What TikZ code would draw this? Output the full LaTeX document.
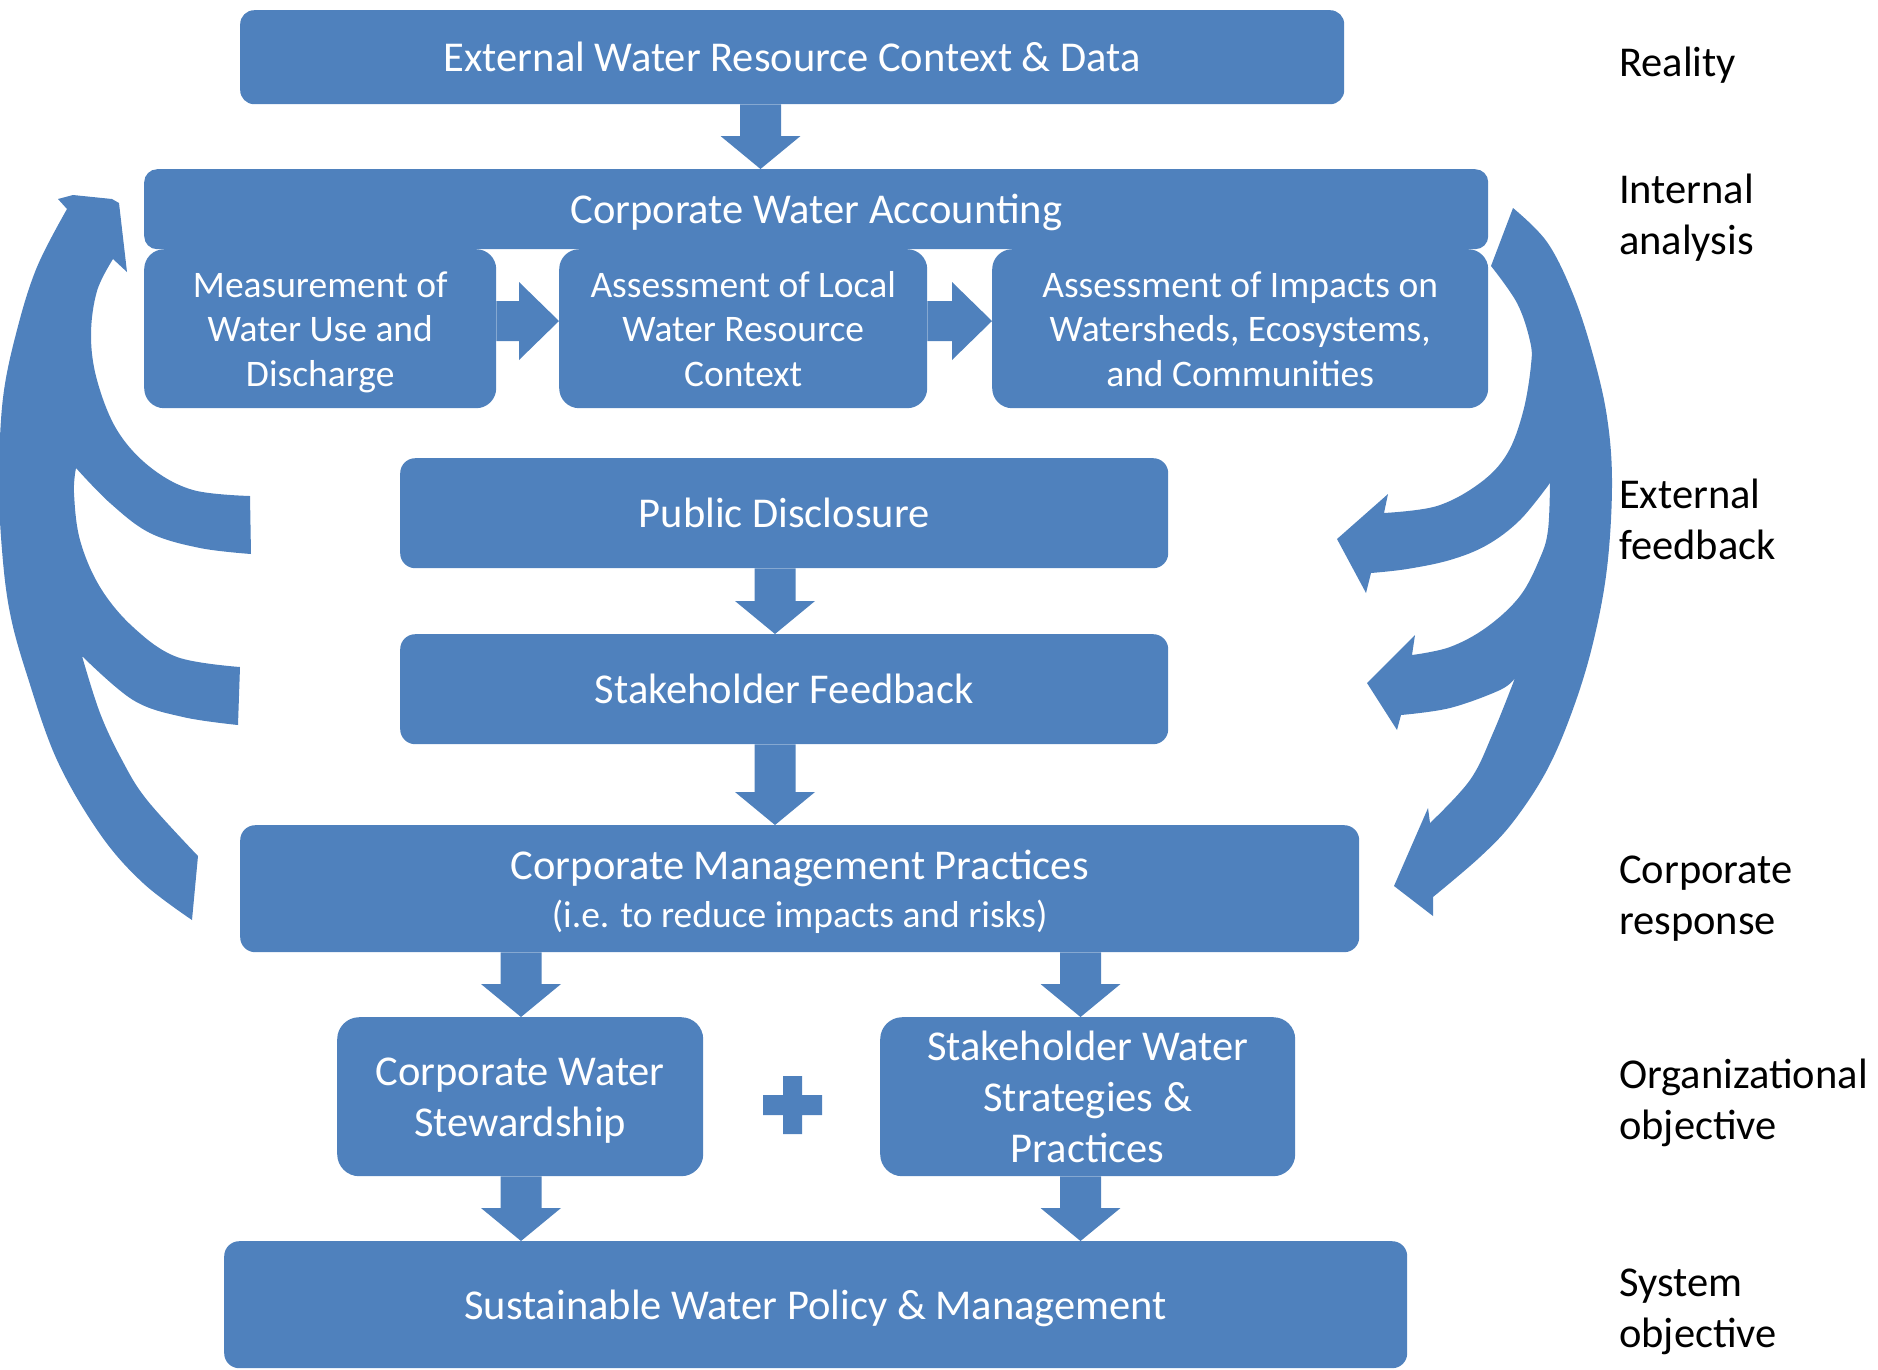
\documentclass[tikz,border=0pt]{standalone}
\usepackage{fontspec}
\setmainfont{Carlito}
\usetikzlibrary{calc}
\definecolor{boxblue}{RGB}{79,129,189}
\tikzset{
  arrowfill/.style={fill=boxblue, draw=none},
  box/.style={fill=boxblue, draw=none, text=white, align=center, inner sep=0pt,
    anchor=north west, text depth=0pt, font=\fontsize{42.5}{51}\selectfont},
  subbox/.style={box, font=\fontsize{37.5}{44.5}\selectfont, rounded corners=20pt},
  lab/.style={anchor=west, align=left, inner sep=0pt, text=black,
    font=\fontsize{42.5}{51}\selectfont},
}
\newcommand\vblk[4]{% x-ref, from, to, head length
  \fill[arrowfill] let \p1=(#1), \p2=(#2.south), \p3=(#3.north) in
   (\x1-20.5pt,\y2) -- (\x1+20.5pt,\y2) -- (\x1+20.5pt,\y3+#4) -- (\x1+40pt,\y3+#4)
   -- (\x1,\y3) -- (\x1-40pt,\y3+#4) -- (\x1-20.5pt,\y3+#4) -- cycle;}
\newcommand\hblk[3]{% y-ref, from, to
  \fill[arrowfill] let \p1=(#1), \p2=(#2.east), \p3=(#3.west) in
   (\x2,\y1+20pt) -- (\x3-40pt,\y1+20pt) -- (\x3-40pt,\y1+39pt) -- (\x3,\y1)
   -- (\x3-40pt,\y1-39pt) -- (\x3-40pt,\y1-20pt) -- (\x2,\y1-20pt) -- cycle;}
\begin{document}
\begin{tikzpicture}[x=1pt,y=-1pt]
\useasboundingbox (0,0) rectangle (1878,1369);
\clip (0,0) rectangle (1878,1369);

% boxes
\node[box, minimum width=1104pt, minimum height=94pt, rounded corners=14pt] (top) at (240,10)
  {External Water Resource Context \& Data};
\node[box, minimum width=1344pt, minimum height=80pt, rounded corners=13pt] (cwa) at (144,169)
  {Corporate Water Accounting};
\node[subbox, minimum width=352pt, minimum height=159pt] (meas) at (144,249)
  {Measurement of\\Water Use and\\Discharge};
\node[subbox, minimum width=368pt, minimum height=159pt] (local) at (559,249)
  {Assessment of Local\\Water Resource\\Context};
\node[subbox, minimum width=496pt, minimum height=159pt] (imp) at (992,249)
  {Assessment of Impacts on\\Watersheds, Ecosystems,\\and Communities};
\node[box, minimum width=768pt, minimum height=110pt, rounded corners=15pt] (pd) at (400,458)
  {Public Disclosure};
\node[box, minimum width=768pt, minimum height=110pt, rounded corners=15pt] (sf) at (400,634)
  {Stakeholder Feedback};
\node[box, minimum width=1119pt, minimum height=127pt, rounded corners=15pt] (cmp) at (240,825)
  {Corporate Management Practices\\[-3pt]{\fontsize{37.5}{44}\selectfont (i.e. to reduce impacts and risks)}};
\node[box, minimum width=366pt, minimum height=159pt, rounded corners=22pt] (cws) at (337,1017)
  {Corporate Water\\Stewardship};
\node[box, minimum width=415pt, minimum height=159pt, rounded corners=22pt] (swsp) at (880,1017)
  {Stakeholder Water\\Strategies \&\\Practices};
\node[box, minimum width=1183pt, minimum height=127pt, rounded corners=15pt] (swpm) at (224,1241)
  {Sustainable Water Policy \& Management};

% plus sign
\fill[boxblue] (783,1076) -- (802,1076) -- (802,1095) -- (822,1095) -- (822,1115) -- (802,1115)
  -- (802,1134) -- (783,1134) -- (783,1115) -- (763,1115) -- (763,1095) -- (783,1095) -- cycle;

% block arrows
\coordinate (c1) at (760.5,0);
\coordinate (c2) at (775,0);
\coordinate (c3) at (521,0);
\coordinate (c4) at (1080.5,0);
\coordinate (h1) at (0,321);
\vblk{c1}{top}{cwa}{33pt}
\vblk{c2}{pd}{sf}{33pt}
\vblk{c2}{sf}{cmp}{33pt}
\vblk{c3}{cmp}{cws}{33pt}
\vblk{c4}{cmp}{swsp}{33pt}
\vblk{c3}{cws}{swpm}{33pt}
\vblk{c4}{swsp}{swpm}{33pt}
\hblk{h1}{meas}{local}
\hblk{h1}{local}{imp}

% left curved arrow (feedback up to accounting)
\fill[arrowfill]
  plot[smooth, tension=0.6] coordinates {(192,920) (143,883) (100,834) (57,760) (27,675) (10,613) (2,550) (-1,480) (3,398) (17,330) (37,267) (67,209)}
  -- (58,199) -- (73,195) -- (112,199) -- (119,203) -- (127,272) -- (113,259)
  -- plot[smooth, tension=0.6] coordinates {(113,259) (97,291) (91,335) (97,380) (117,430) (150,467) (193,490) (250,496)}
  -- (251,554)
  -- plot[smooth, tension=0.6] coordinates {(251,554) (200,548) (150,533) (110,503) (76,468)}
  -- plot[smooth, tension=0.6] coordinates {(76,468) (74,493) (80,540) (100,587) (133,627) (177,657) (240,667)}
  -- (238,725)
  -- plot[smooth, tension=0.6] coordinates {(238,725) (183,717) (133,700) (82,656)}
  -- plot[smooth, tension=0.6] coordinates {(82,656) (100,713) (122,760) (147,800) (198,856)}
  -- cycle;

% right curved arrow (feedback down to management)
\fill[arrowfill] (1491,266) -- (1513,208)
  -- plot[smooth, tension=0.6] coordinates {(1513,208) (1547,242) (1573,294) (1593,355) (1607,417) (1612,483) (1607,568) (1593,643) (1573,709) (1547,770) (1513,822) (1480,857) (1433,897)}
  -- (1433,916) -- (1394,886) -- (1428,808) -- (1430,823)
  -- plot[smooth, tension=0.6] coordinates {(1430,823) (1470,780) (1493,733) (1515,678)}
  -- plot[smooth, tension=0.6] coordinates {(1515,678) (1500,690) (1450,708) (1401,715)}
  -- (1397,730) -- (1367,683) -- (1415,635) -- (1412,655)
  -- plot[smooth, tension=0.6] coordinates {(1412,655) (1450,647) (1487,627) (1520,596) (1540,558) (1548,530) (1550,483)}
  -- plot[smooth, tension=0.6] coordinates {(1550,483) (1520,520) (1487,545) (1450,560) (1407,569) (1371,573)}
  -- (1366,593) -- (1337,539) -- (1388,494) -- (1384,513)
  -- plot[smooth, tension=0.6] coordinates {(1384,513) (1437,506) (1480,483) (1507,454) (1523,412) (1531,365) (1530,341) (1517,303) (1491,266)}
  -- cycle;

% right-hand labels
\node[lab] (lreal) at (1619,65) {Reality};
\node[lab] (lint) at (1619,218) {Internal\\analysis};
\node[lab] (lext) at (1619,519) {External\\feedback};
\node[lab] (lcorp) at (1619,899) {Corporate\\response};
\node[lab] (lorg) at (1619,1103) {Organizational\\objective};
\node[lab] (lsys) at (1619,1312) {System\\objective};
\end{tikzpicture}
\end{document}
